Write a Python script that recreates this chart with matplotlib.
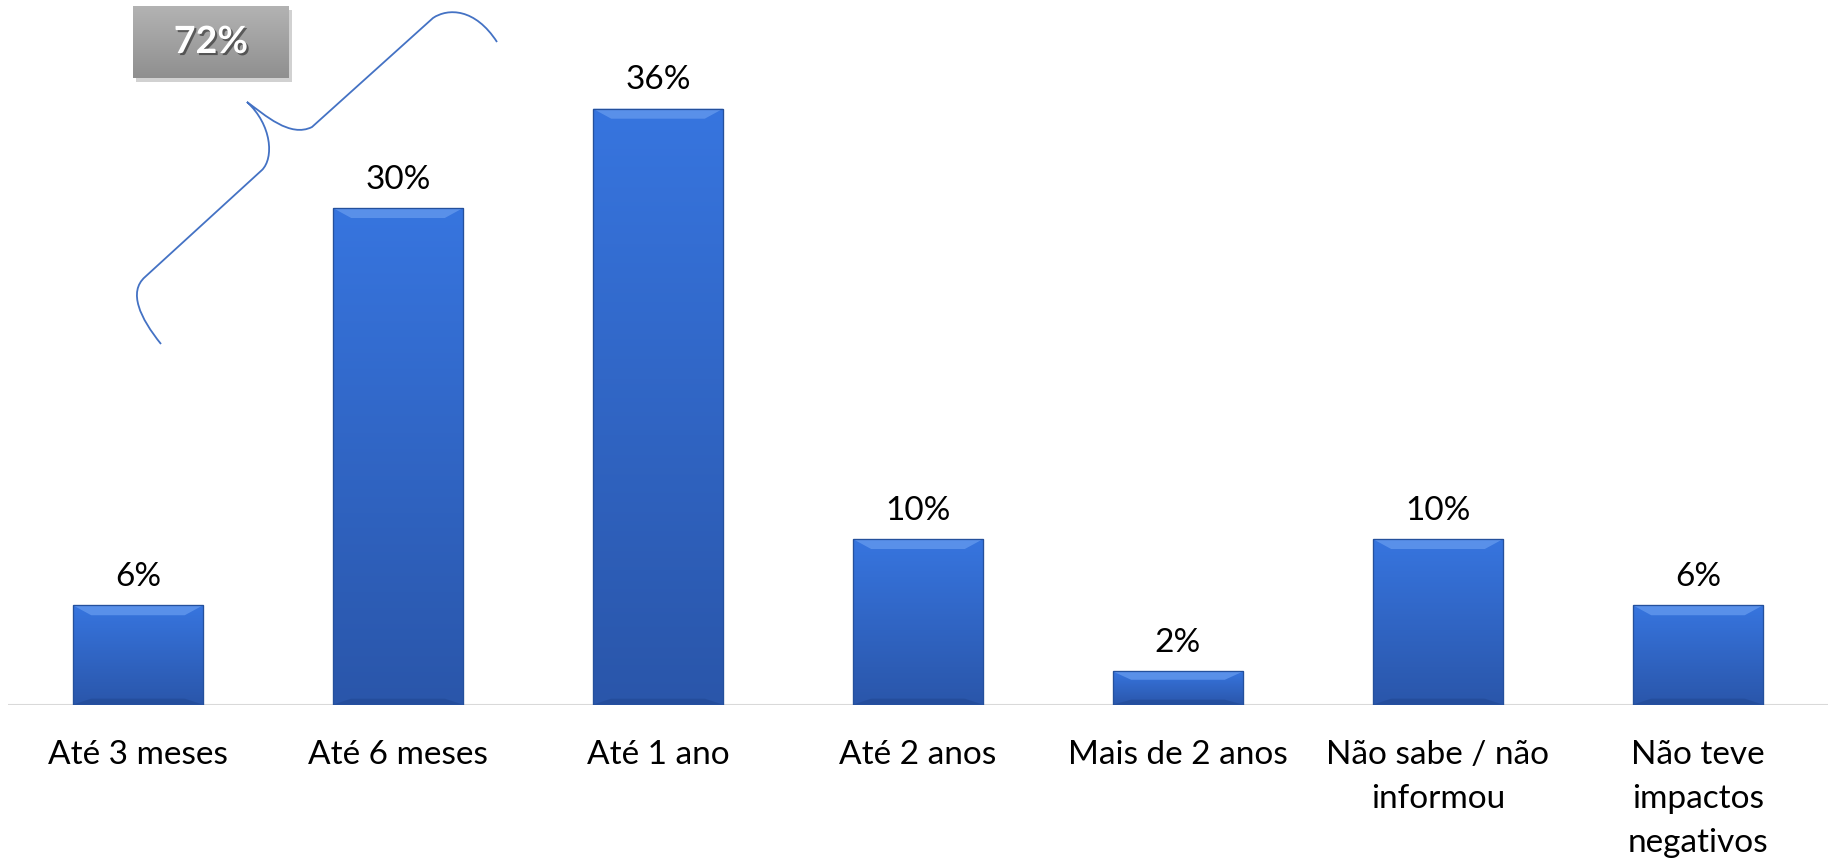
import numpy as np
import matplotlib
matplotlib.use('Agg')
import matplotlib.pyplot as plt
import matplotlib.patheffects as pe
from matplotlib.path import Path
from matplotlib.patches import PathPatch, Polygon, Rectangle

plt.rcParams['font.family'] = ['Lato', 'DejaVu Sans']

categories = ['Até 3 meses', 'Até 6 meses', 'Até 1 ano', 'Até 2 anos',
              'Mais de 2 anos', 'Não sabe / não\ninformou', 'Não teve\nimpactos\nnegativos']
values = [6, 30, 36, 10, 2, 10, 6]
group_label = '72%'

W, H = 1829, 864
fig = plt.figure(figsize=(W / 100, H / 100), dpi=100)
ax = fig.add_axes([8 / W, (H - 704.6) / H, 1820 / W, 704.6 / H])

x = np.arange(len(categories))
bar_w = 0.5
bars = ax.bar(x, values, width=bar_w, color='#3168cc', edgecolor='#25509e',
              linewidth=0.8, zorder=2)

# vertical gradient + bevel on each bar
grad = np.linspace(0, 1, 256).reshape(-1, 1)
cmap = matplotlib.colors.LinearSegmentedColormap.from_list('b', ['#2a56aa', '#3775df'])
for b in bars:
    x0, w, h = b.get_x(), b.get_width(), b.get_height()
    im = ax.imshow(grad, cmap=cmap, origin='lower', aspect='auto',
                   extent=[x0, x0 + w, 0, h], zorder=2.1)
    im.set_clip_path(b)
    dx, dy = 0.07, min(0.6, h * 0.25)
    ax.add_patch(Polygon([[x0, h], [x0 + w, h], [x0 + w - dx, h - dy], [x0 + dx, h - dy]],
                         closed=True, facecolor='#6096ec', edgecolor='none', alpha=0.85, zorder=2.2))
    ax.add_patch(Polygon([[x0, 0], [x0 + w, 0], [x0 + w - dx, dy * 0.6], [x0 + dx, dy * 0.6]],
                         closed=True, facecolor='#20468f', edgecolor='none', alpha=0.5, zorder=2.2))
    ax.add_patch(Rectangle((x0, 0), w, h, facecolor='none', edgecolor='#24509c',
                           linewidth=0.9, zorder=2.3))

for xi, v in zip(x, values):
    ax.annotate('{}%'.format(v), (xi, v), xytext=(0, 14), textcoords='offset points',
                ha='center', va='baseline', fontsize=24, color='black')

for xi, c in zip(x, categories):
    ax.text(xi, -0.05, c, transform=ax.get_xaxis_transform(), ha='center', va='top',
            fontsize=24, linespacing=1.58, color='black')

ax.set_xlim(-0.5, len(categories) - 0.5)
ax.set_ylim(0, 42.57)
ax.axhline(0, color='#d9d9d9', linewidth=2.2, zorder=1)
ax.axis('off')

# grey summary box
shadow = fig.add_axes([136 / W, 1 - 82 / H, 156 / W, 72 / H])
shadow.add_patch(Rectangle((0, 0), 1, 1, facecolor='#000000', alpha=0.18, edgecolor='none'))
shadow.axis('off')
box = fig.add_axes([133 / W, 1 - 78 / H, 156 / W, 72 / H])
gcmap = matplotlib.colors.LinearSegmentedColormap.from_list('g', ['#8f8f8f', '#b3b3b3'])
box.imshow(grad, cmap=gcmap, origin='lower', aspect='auto', extent=[0, 1, 0, 1])
box.set_xlim(0, 1)
box.set_ylim(0, 1)
box.axis('off')
box.text(0.5, 0.5, group_label, ha='center', va='center', fontsize=27,
         fontweight='bold', color='white',
         path_effects=[pe.SimplePatchShadow(offset=(1.5, -1.5), shadow_rgbFace='black', alpha=0.45),
                       pe.Normal()])

# curly brace linking the first three bars to the box (pixel coords, y from top)
pts = [(161, 344), (140, 318), (128, 292), (145, 277),
       (262, 170),
       (274, 158), (272, 125), (247, 102),
       (265, 115), (290, 138), (312, 127),
       (433, 18),
       (448, 8), (475, 8), (497, 42)]
codes = [Path.MOVETO, Path.CURVE4, Path.CURVE4, Path.CURVE4,
         Path.LINETO,
         Path.CURVE4, Path.CURVE4, Path.CURVE4,
         Path.CURVE4, Path.CURVE4, Path.CURVE4,
         Path.LINETO,
         Path.CURVE4, Path.CURVE4, Path.CURVE4]
verts = [(px / W, 1 - py / H) for px, py in pts]
fig.patches.append(PathPatch(Path(verts, codes), transform=fig.transFigure,
                             facecolor='none', edgecolor='#4472c4', linewidth=1.3))

fig.savefig('out.png', dpi=100)
